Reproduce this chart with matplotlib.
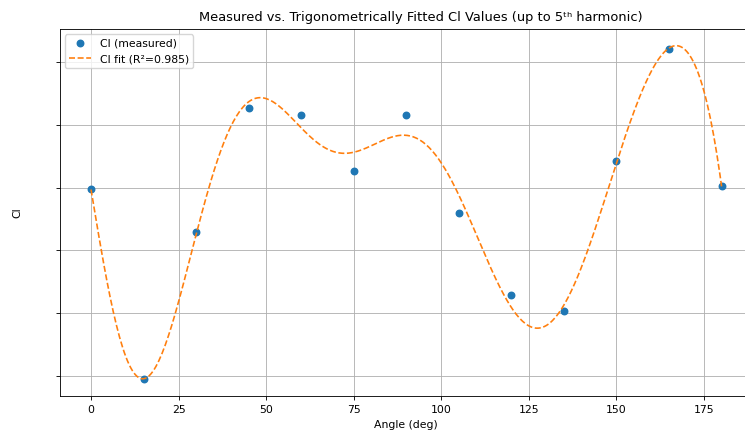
import numpy as np
import matplotlib
matplotlib.use("Agg")
import matplotlib.pyplot as plt

# measured lift coefficient vs. angle
angle_deg = [0, 15, 30, 45, 60, 75, 90, 105, 120, 135, 150, 165, 180]
cl_measured = [-0.003, -0.305, -0.071, 0.126, 0.115, 0.027, 0.116,
               -0.041, -0.171, -0.197, 0.043, 0.221, 0.002]
n_harmonics = 5
fit_label = "Cl fit (R\u00b2=0.985)"


def design_matrix(theta_deg, n):
    th = np.radians(theta_deg)
    cols = [np.ones_like(th)]
    for k in range(1, n + 1):
        cols.append(np.cos(k * th))
        cols.append(np.sin(k * th))
    return np.column_stack(cols)


x = np.array(angle_deg, dtype=float)
y = np.array(cl_measured)
A = design_matrix(x, n_harmonics)
coef, *_ = np.linalg.lstsq(A, y, rcond=None)

x_fine = np.linspace(0, 180, 400)
y_fit = design_matrix(x_fine, n_harmonics) @ coef

s = 0.78  # overall scale for text and line widths
plt.rcParams.update({
    "font.size": 10 * s,
    "lines.linewidth": 1.5 * s,
    "lines.markersize": 6 * s,
    "axes.linewidth": 0.8 * s,
    "grid.linewidth": 0.8 * s,
    "xtick.major.size": 3.5 * s,
    "ytick.major.size": 3.5 * s,
    "xtick.major.width": 0.8 * s,
    "ytick.major.width": 0.8 * s,
})

fig = plt.figure(figsize=(7.45, 4.32), dpi=100)
ax = fig.add_axes([59.5 / 745, 36 / 432, 693.6 / 745, 367 / 432])
ax.plot(x, y, "o", color="#1f77b4", label="Cl (measured)")
ax.plot(x_fine, y_fit, "--", color="#ff7f0e", label=fit_label)
ax.set_xlim(-9, 189)
ax.set_yticks([-0.3, -0.2, -0.1, 0.0, 0.1, 0.2])
ax.set_yticklabels([])
ax.set_xlabel("Angle (deg)")
ax.set_ylabel("Cl")
ax.yaxis.set_label_coords(-0.054, 0.5)
ax.set_title("Measured vs. Trigonometrically Fitted Cl Values (up to 5\u1d57\u02b0 harmonic)",
             fontsize=12 * s, x=0.521)
ax.grid(True)
ax.legend(loc="upper left")
fig.savefig("out.png", dpi=100)
